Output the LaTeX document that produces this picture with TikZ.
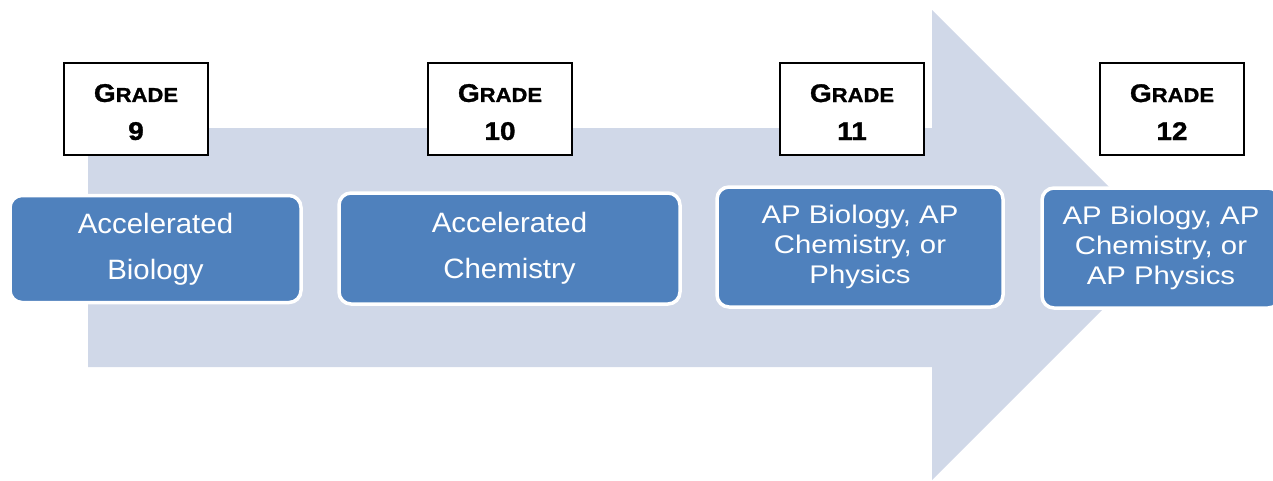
\documentclass[tikz,border=0pt]{standalone}
\usepackage{fontspec}
\usepackage{tikz}
\setmainfont{Liberation Sans}
\newfontfamily\gradefont[FakeStretch=1.1,FakeBold=1.2]{Liberation Sans Bold}
\newfontfamily\coursefont[FakeStretch=1.05]{Liberation Sans}
\newfontfamily\apfont[FakeStretch=1.15]{Liberation Sans}
\definecolor{band}{HTML}{D0D8E8}
\definecolor{course}{HTML}{4F81BD}
\newcommand\gradetext[1]{\rule{0pt}{24pt}G{\fontsize{20}{38}\selectfont RADE}\\#1}
\tikzset{
  grade/.style={draw=black, fill=white, line width=1.6pt, minimum width=144pt, minimum height=92pt,
    inner sep=0pt, align=center, font=\gradefont\fontsize{25.5}{38}\selectfont},
  course/.style={draw=white, fill=course, line width=3.5pt, rounded corners=12pt, inner sep=0pt,
    align=center, text=white},
  bigtxt/.style={font=\coursefont\fontsize{28}{46}\selectfont},
  smalltxt/.style={font=\apfont\fontsize{25.5}{30}\selectfont},
}

\begin{document}
\begin{tikzpicture}[x=1pt, y=-1pt]
  \useasboundingbox (0,0) rectangle (1273,480);
  % big arrow behind everything
  \fill[band] (88,128) -- (932,128) -- (932,10) -- (1167,245) -- (932,480)
    -- (932,367) -- (88,367) -- cycle;
  % grade boxes
  \node[grade] (g9) at (136,109) {\gradetext{9}};
  \node[grade] (g10) at (500,109) {\gradetext{10}};
  \node[grade] (g11) at (852,109) {\gradetext{11}};
  \node[grade] (g12) at (1172,109) {\gradetext{12}};
  % courses
  \node[course, bigtxt, minimum width=291pt, minimum height=107pt] (c9) at (155.5,249)
    {Accelerated\\Biology};
  \node[course, bigtxt, minimum width=341pt, minimum height=111pt] (c10) at (509.5,248.5)
    {Accelerated\\Chemistry};
  \node[course, smalltxt, minimum width=286pt, minimum height=120pt] (c11) at (860,247)
    {AP Biology, AP\\Chemistry, or\\Physics};
  \node[course, smalltxt, minimum width=238pt, minimum height=120pt] (c12) at (1161,248)
    {AP Biology, AP\\Chemistry, or\\AP Physics};
\end{tikzpicture}
\end{document}
